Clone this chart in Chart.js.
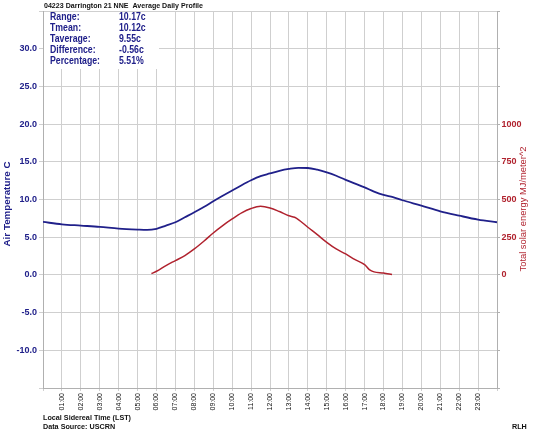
<!DOCTYPE html>
<html><head><meta charset="utf-8">
<style>html,body{margin:0;padding:0;background:#fff;} #wrap{width:540px;height:432px;position:relative;}</style>
<script src="https://cdn.jsdelivr.net/npm/chart.js@4/dist/chart.umd.min.js"></script>
</head><body><div id="wrap"><canvas id="c" width="540" height="432"></canvas></div>
<script>
const chartTitle = '04223 Darrington 21 NNE  Average Daily Profile';
const statLabels = ['Range:', 'Tmean:', 'Taverage:', 'Difference:', 'Percentage:'];
const statValues = ['10.17c', '10.12c', '9.55c', '-0.56c', '5.51%'];
const leftTitle = 'Air Temperature C';
const rightTitle = 'Total solar energy MJ/meter^2';
const footLines = ['Local Sidereal Time (LST)', 'Data Source: USCRN'];
const footRight = 'RLH';
const hourLabels = ['01:00','02:00','03:00','04:00','05:00','06:00','07:00','08:00','09:00','10:00','11:00','12:00','13:00','14:00','15:00','16:00','17:00','18:00','19:00','20:00','21:00','22:00','23:00'];
const tempTicks = [-10, -5, 0, 5, 10, 15, 20, 25, 30];
const solarTicks = [0, 250, 500, 750, 1000];
const tempHours = [0,1,2,3,4,5,5.5,6,6.5,7,7.5,8,8.5,9,9.5,10,10.5,11,11.5,12,12.5,13,13.5,14,14.5,15,15.5,16,16.5,17,17.5,18,18.5,19,20,21,22,23,24];
const tempValues = [7.03,6.71,6.54,6.37,6.14,6.01,5.97,6.12,6.54,6.98,7.64,8.3,9.0,9.76,10.5,11.2,11.9,12.55,13.1,13.45,13.8,14.05,14.2,14.18,13.95,13.6,13.15,12.6,12.1,11.6,11.05,10.6,10.3,9.9,9.19,8.44,7.86,7.33,6.98];
const solarHours = [5.73,6,6.5,7,7.5,8,8.5,9,9.5,10,10.5,11,11.5,12,12.5,13,13.3,13.5,14,14.5,15,15.5,16,16.5,17,17.25,17.5,18,18.45];
const solarValues = [9,24,62,95,128,172,223,278,327,371,411,440,455,444,420,392,382,367,316,267,216,172,139,101,68,35,20,13,2];

const NAVY = '#20208a';
const DRED = '#b0222e';
const GRID = '#cfcfcf';
const BORDER = '#b0b0b0';
const FAM = '"Liberation Sans", Arial, sans-serif';

// draw text at a given font size, squeezed horizontally to a target width
function squeezed(ctx, text, x, y, size, weight, refText, refWidth, rotate) {
  ctx.font = weight + ' ' + size + 'px ' + FAM;
  const sx = Math.min(1.15, refWidth / ctx.measureText(refText).width);
  ctx.save();
  ctx.translate(x, y);
  if (rotate) ctx.rotate(-Math.PI / 2);
  ctx.scale(sx, 1);
  ctx.fillText(text, 0, 0);
  ctx.restore();
}

const decor = {
  id: 'decor',
  afterDraw(chart) {
    const ctx = chart.ctx;
    const ca = chart.chartArea;
    ctx.save();
    // stats box
    ctx.fillStyle = '#fff';
    ctx.fillRect(ca.left + 1, ca.top + 1, 158 - ca.left, 68 - ca.top);
    ctx.fillStyle = NAVY;
    ctx.textBaseline = 'middle';
    ctx.textAlign = 'left';
    statLabels.forEach((t, i) => {
      const y = 17.5 + i * 10.9;
      squeezed(ctx, t, 50, y, 10, 'bold', 'Percentage:', 50);
      squeezed(ctx, statValues[i], 119, y, 10, 'bold', 'Percentage:', 50);
    });
    // title
    ctx.fillStyle = '#111';
    squeezed(ctx, chartTitle, 44, 5.5, 7.5, 'bold', chartTitle, 159);
    // footer
    squeezed(ctx, footLines[0], 43, 418, 7.8, 'bold', footLines[0], 88);
    squeezed(ctx, footLines[1], 43, 426.5, 7.8, 'bold', footLines[0], 88);
    squeezed(ctx, footRight, 512, 426.5, 7.8, 'bold', footLines[0], 88);
    // axis titles
    ctx.fillStyle = NAVY;
    ctx.textAlign = 'center';
    squeezed(ctx, leftTitle, 7.5, 204, 9, 'bold', leftTitle, 85, true);
    ctx.fillStyle = DRED;
    squeezed(ctx, rightTitle, 524, 209, 9, 'normal', rightTitle, 125, true);
    ctx.restore();
  }
};

new Chart(document.getElementById('c'), {
  type: 'line',
  data: {
    datasets: [
      {
        label: 'Air Temperature',
        data: tempHours.map((h, i) => ({ x: h, y: tempValues[i] })),
        borderColor: NAVY,
        borderWidth: 1.8,
        pointRadius: 0,
        cubicInterpolationMode: 'monotone',
        yAxisID: 'y'
      },
      {
        label: 'Solar energy',
        data: solarHours.map((h, i) => ({ x: h, y: solarValues[i] })),
        borderColor: DRED,
        borderWidth: 1.5,
        pointRadius: 0,
        cubicInterpolationMode: 'monotone',
        yAxisID: 'y2'
      }
    ]
  },
  options: {
    responsive: false,
    animation: false,
    devicePixelRatio: 1,
    layout: { padding: { top: 11, left: 0, right: 0, bottom: 0 } },
    plugins: { legend: { display: false }, tooltip: { enabled: false }, title: { display: false } },
    scales: {
      x: {
        type: 'linear', min: 0, max: 24,
        afterFit(sc) { sc.height = 44; },
        afterBuildTicks(sc) { sc.ticks = Array.from({ length: 25 }, (_, i) => ({ value: i })); },
        ticks: {
          autoSkip: false, maxRotation: 90, minRotation: 90, padding: 2,
          color: '#111', font: { size: 7, family: FAM },
          callback: (v) => (v >= 1 && v <= 23 ? hourLabels[v - 1] : '')
        },
        grid: { color: GRID, tickLength: 3 },
        border: { color: BORDER }
      },
      y: {
        position: 'left', min: -15, max: 35,
        afterFit(sc) { sc.width = 43; },
        afterBuildTicks(sc) { sc.ticks = Array.from({ length: 11 }, (_, i) => ({ value: -15 + 5 * i })); },
        ticks: {
          padding: 2, color: NAVY, font: { size: 9, weight: 'bold', family: FAM },
          callback: (v) => (tempTicks.includes(v) ? v.toFixed(1) : '')
        },
        grid: { color: GRID, tickLength: 4 },
        border: { color: BORDER }
      },
      y2: {
        position: 'right', min: -750, max: 1750,
        afterFit(sc) { sc.width = 43; },
        afterBuildTicks(sc) { sc.ticks = Array.from({ length: 11 }, (_, i) => ({ value: -750 + 250 * i })); },
        ticks: {
          padding: 1.5, color: DRED, font: { size: 9, weight: 'bold', family: FAM },
          callback: (v) => (solarTicks.includes(v) ? String(v) : '')
        },
        grid: { drawOnChartArea: false, color: BORDER, tickLength: 3 },
        border: { color: BORDER }
      }
    }
  },
  plugins: [decor]
});
</script>
</body></html>
